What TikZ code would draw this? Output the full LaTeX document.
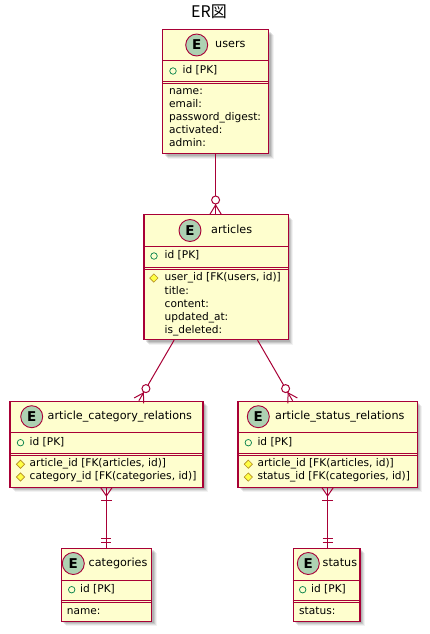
\documentclass[tikz,border=0pt]{standalone}
\usepackage{fontspec}
\setmainfont{DejaVu Sans}
\newfontfamily\cjkfont{Noto Sans CJK JP}
\usetikzlibrary{calc,shapes.geometric,shadows}

\definecolor{erred}{HTML}{A80036}
\definecolor{erfill}{HTML}{FEFECE}
\definecolor{ecfill}{HTML}{ADD1B2}
\definecolor{pkgreen}{HTML}{038048}
\definecolor{fkline}{HTML}{B38D22}
\definecolor{fkfill}{HTML}{FFFF44}

\tikzset{
  softshadow/.style={
    drop shadow={shadow xshift=2pt, shadow yshift=-2pt, opacity=.10, fill=black},
    drop shadow={shadow xshift=3pt, shadow yshift=-3pt, opacity=.10, fill=black},
    drop shadow={shadow xshift=4pt, shadow yshift=-4pt, opacity=.08, fill=black},
    drop shadow={shadow xshift=5pt, shadow yshift=-5pt, opacity=.05, fill=black}},
  entity/.style={draw=erred, fill=erfill, line width=1.2pt, inner sep=0pt,
    anchor=north west, softshadow},
  sepline/.style={draw=erred, line width=1pt},
  ecircle/.style={circle, draw=erred, fill=ecfill, line width=.9pt,
    minimum size=22pt, inner sep=0pt, font=\fontsize{13.5}{13.5}\selectfont\bfseries},
  ename/.style={anchor=west, inner sep=0pt, text height=8.4pt, text depth=2.4pt,
    font=\fontsize{11.2}{12}\selectfont},
  attr/.style={anchor=west, inner sep=0pt, text height=7.8pt, text depth=2.3pt,
    font=\fontsize{10.6}{12}\selectfont},
  pkmark/.style={circle, draw=pkgreen, fill=erfill, line width=.7pt,
    minimum size=6.5pt, inner sep=0pt},
  fkmark/.style={diamond, draw=fkline, fill=fkfill, line width=.6pt,
    minimum size=8.5pt, inner sep=0pt},
  rel/.style={draw=erred, line width=1pt},
}

% crow's foot ends: #1 = end at the entity, #2 = the other end of the line
\newcommand\erZeroMany[2]{%
  \draw[rel] ($(#1)!5.5pt!90:(#2)$) -- ($(#1)!9pt!(#2)$) -- ($(#1)!5.5pt!-90:(#2)$);
  \draw[rel, fill=white] ($(#1)!14pt!(#2)$) circle[radius=4pt];
}
\newcommand\erOneMany[2]{%
  \draw[rel] ($(#1)!5.5pt!90:(#2)$) -- ($(#1)!8pt!(#2)$) -- ($(#1)!5.5pt!-90:(#2)$);
  \draw[rel] ($(#1)!13pt!(#2)!5.5pt!90:(#2)$) -- ($(#1)!13pt!(#2)!5.5pt!-90:(#2)$);
}
\newcommand\erExactlyOne[2]{%
  \draw[rel] ($(#1)!5.5pt!(#2)!5pt!90:(#2)$) -- ($(#1)!5.5pt!(#2)!5pt!-90:(#2)$);
  \draw[rel] ($(#1)!9pt!(#2)!5pt!90:(#2)$) -- ($(#1)!9pt!(#2)!5pt!-90:(#2)$);
}

\begin{document}
\begin{tikzpicture}[x=1pt, y=-1pt]
\fill[white] (0,0) rectangle (429,634);
\useasboundingbox (0,0) rectangle (429,634);

\node[font=\cjkfont\fontsize{16}{16}\selectfont, inner sep=0pt] (title) at (209,12) {ER図};

% ---------------- users
\node[entity, minimum width=106pt, minimum height=124pt] (users) at (162,29) {};
\draw[sepline] (162,61) -- (268,61);
\draw[sepline] (162,81.7) -- (268,81.7) (162,83.7) -- (268,83.7);
\node[ecircle] (usersE) at (196.7,45) {E};
\node[ename] (usersN) at (215,45) {users};
\node[pkmark] (usersPk) at (173,71) {};
\node[attr] (usersId) at (182.5,71) {id [PK]};
\node[attr] (usersA1) at (169,92) {name:};
\node[attr] (usersA2) at (169,105) {email:};
\node[attr] (usersA3) at (169,118) {password\_digest:};
\node[attr] (usersA4) at (169,131) {activated:};
\node[attr] (usersA5) at (169,144) {admin:};

% ---------------- articles
\node[entity, minimum width=144.4pt, minimum height=125pt] (articles) at (143.3,214) {};
\draw[sepline] (143.3,246.5) -- (287.7,246.5);
\draw[sepline] (143.3,267) -- (287.7,267) (143.3,269) -- (287.7,269);
\node[ecircle] (articlesE) at (190,230.5) {E};
\node[ename] (articlesN) at (211,230.5) {articles};
\node[pkmark] (articlesPk) at (154,256) {};
\node[attr] (articlesId) at (164.5,256) {id [PK]};
\node[fkmark] (articlesFk) at (153.8,278) {};
\node[attr] (articlesA1) at (164.5,278) {user\_id [FK(users, id)]};
\node[attr] (articlesA2) at (164.5,291.3) {title:};
\node[attr] (articlesA3) at (164.5,304.6) {content:};
\node[attr] (articlesA4) at (164.5,317.9) {updated\_at:};
\node[attr] (articlesA5) at (164.5,331.2) {is\_deleted:};

% ---------------- article_category_relations
\node[entity, minimum width=193pt, minimum height=86pt] (acr) at (9.3,400.7) {};
\draw[sepline] (9.3,432.7) -- (202.3,432.7);
\draw[sepline] (9.3,453.3) -- (202.3,453.3) (9.3,455.3) -- (202.3,455.3);
\node[ecircle] (acrE) at (31.7,416.7) {E};
\node[ename] (acrN) at (47.5,416.7) {article\_category\_relations};
\node[pkmark] (acrPk) at (20.5,442.7) {};
\node[attr] (acrId) at (29.5,442.7) {id [PK]};
\node[fkmark] (acrFk1) at (20.5,464.2) {};
\node[attr] (acrA1) at (29.5,464.2) {article\_id [FK(articles, id)]};
\node[fkmark] (acrFk2) at (20.5,477) {};
\node[attr] (acrA2) at (29.5,477) {category\_id [FK(categories, id)]};

% ---------------- article_status_relations
\node[entity, minimum width=179.4pt, minimum height=86pt] (asr) at (237.3,400.7) {};
\draw[sepline] (237.3,432.7) -- (416.7,432.7);
\draw[sepline] (237.3,453.3) -- (416.7,453.3) (237.3,455.3) -- (416.7,455.3);
\node[ecircle] (asrE) at (258.3,416.7) {E};
\node[ename] (asrN) at (275,416.7) {article\_status\_relations};
\node[pkmark] (asrPk) at (248.3,442.7) {};
\node[attr] (asrId) at (257.3,442.7) {id [PK]};
\node[fkmark] (asrFk1) at (248.3,464.2) {};
\node[attr] (asrA1) at (257.3,464.2) {article\_id [FK(articles, id)]};
\node[fkmark] (asrFk2) at (248.3,477) {};
\node[attr] (asrA2) at (257.3,477) {status\_id [FK(categories, id)]};

% ---------------- categories
\node[entity, minimum width=90.3pt, minimum height=73pt] (cat) at (60.7,547.7) {};
\draw[sepline] (60.7,580) -- (151,580);
\draw[sepline] (60.7,600.2) -- (151,600.2) (60.7,602.2) -- (151,602.2);
\node[ecircle] (catE) at (73.3,563.5) {E};
\node[ename] (catN) at (88.5,563.5) {categories};
\node[pkmark] (catPk) at (71.7,589.7) {};
\node[attr] (catId) at (80,589.7) {id [PK]};
\node[attr] (catA1) at (66.7,611.5) {name:};

% ---------------- status
\node[entity, minimum width=66.6pt, minimum height=73pt] (stat) at (292.7,547.7) {};
\draw[sepline] (292.7,580) -- (359.3,580);
\draw[sepline] (292.7,600.2) -- (359.3,600.2) (292.7,602.2) -- (359.3,602.2);
\node[ecircle] (statE) at (308.3,563.5) {E};
\node[ename] (statN) at (322.5,563.5) {status};
\node[pkmark] (statPk) at (302.7,589.7) {};
\node[attr] (statId) at (311,589.7) {id [PK]};
\node[attr] (statA1) at (299,611.5) {status:};

% ---------------- relationships
\coordinate (r1s) at (users.south);
\coordinate (r1e) at (users.south |- articles.north);
\draw[rel] (r1s) -- (r1e);
\erZeroMany{r1e}{r1s}

\coordinate (r2s) at ([xshift=-42pt]articles.south);
\coordinate (r2e) at ([xshift=32.5pt]acr.north);
\draw[rel] (r2s) -- (r2e);
\erZeroMany{r2e}{r2s}

\coordinate (r3s) at ([xshift=41.5pt]articles.south);
\coordinate (r3e) at ([xshift=-35pt]asr.north);
\draw[rel] (r3s) -- (r3e);
\erZeroMany{r3e}{r3s}

\coordinate (r4s) at (acr.south);
\coordinate (r4e) at (acr.south |- cat.north);
\draw[rel] (r4s) -- (r4e);
\erOneMany{r4s}{r4e}
\erExactlyOne{r4e}{r4s}

\coordinate (r5s) at (asr.south);
\coordinate (r5e) at (asr.south |- stat.north);
\draw[rel] (r5s) -- (r5e);
\erOneMany{r5s}{r5e}
\erExactlyOne{r5e}{r5s}
\end{tikzpicture}
\end{document}
